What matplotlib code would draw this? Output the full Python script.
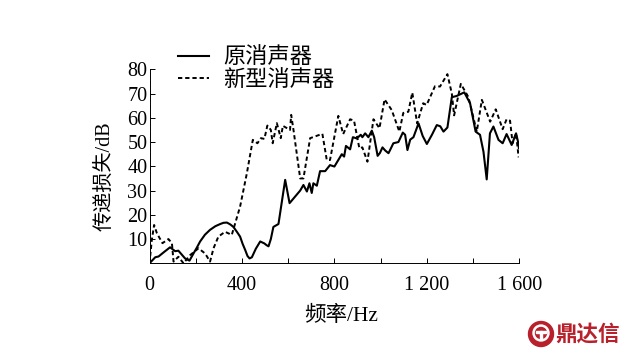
import matplotlib
matplotlib.use("Agg")
import matplotlib.pyplot as plt
from matplotlib.patches import Circle, Rectangle

# 字体: 数字用 Times 风格, 中文用 Noto
plt.rcParams['font.family'] = ['Liberation Serif', 'Noto Sans CJK SC']

# 原消声器
freq_old = [0, 25, 39, 65, 89, 111, 125, 154, 173, 190, 205, 219, 240, 262, 285, 306, 320, 335, 350, 363,
            378, 392, 403, 414, 424, 433, 443, 460, 479, 497, 506, 515, 525, 536, 558, 587, 606, 652,
            666, 681, 692, 702, 709, 724, 738, 760, 781, 800, 832, 842, 850, 868, 880, 897, 914, 921,
            933, 947, 962, 972, 987, 997, 1008, 1020, 1034, 1045, 1055, 1077, 1096, 1106, 1116, 1128,
            1142, 1164, 1182, 1200, 1222, 1243, 1258, 1272, 1289, 1308, 1329, 1362, 1387, 1411, 1430,
            1445, 1459, 1473, 1488, 1510, 1528, 1545, 1567, 1586, 1596, 1598]
tl_old = [0, 2.5, 2.8, 4.8, 6.6, 5, 5.2, 2, 1.1, 4, 6.5, 9, 11.8, 13.8, 15.3, 16.2, 16.7, 16.8, 16, 15,
          13, 11, 8, 5.5, 3, 2, 2.5, 6, 9, 8.2, 7.5, 7, 10, 15, 16.2, 34.4, 24.8, 30,
          32.3, 29.6, 33, 29, 33, 32, 38, 38, 40.5, 39.9, 45, 44, 48.4, 47, 52, 51.5, 53, 52,
          53.6, 52, 54.7, 52, 44.3, 45.5, 47.8, 46.5, 45.4, 47.5, 49.5, 50, 53.9, 53, 46.7, 51,
          52, 57.7, 52.5, 49.2, 53, 57, 56.5, 54.3, 56, 68.5, 69, 70.5, 66, 54.3, 53,
          46, 34.6, 53.6, 56.4, 50.9, 49.5, 53.3, 48.8, 53.6, 49.5, 47.5]

# 新型消声器
freq_new = [0, 10, 20, 32, 56, 82, 97, 104, 125, 147, 176, 212, 241, 262, 277, 298, 327, 356,
            392, 421, 447, 467, 482, 497, 510, 525, 533, 551, 568, 577, 608, 613, 623, 652, 666,
            695, 748, 767, 781, 817, 838, 868, 885, 908, 921, 943, 969, 995, 1017, 1048, 1081,
            1098, 1120, 1137, 1158, 1184, 1199, 1235, 1257, 1289, 1308, 1318, 1347, 1380, 1416,
            1438, 1474, 1498, 1528, 1545, 1560, 1571, 1586, 1597]
tl_new = [0, 9.6, 15.8, 12.4, 8.3, 10, 8.3, 0.7, 2.7, 0, 3.4, 6.2, 4, 0.7, 6.2, 11, 13, 11.7,
          23.4, 37, 50.9, 49.5, 51.6, 51.3, 56.8, 55, 49.5, 57.8, 51.6, 56.7, 55, 61.2, 55, 35, 35,
          51.6, 53.4, 42.6, 42.6, 60.8, 53.3, 59.4, 58.8, 47.4, 47.8, 41.9, 59.4, 55.7, 67.6, 63.2, 54.3,
          62, 62.5, 70.4, 57.7, 66, 65.3, 73, 72.9, 78, 70, 61, 74, 68.5, 54.3,
          67.4, 58.4, 63.5, 55.3, 59.4, 58.8, 49.5, 53.6, 43.7]

x_ticks = [0, 200, 400, 600, 800, 1000, 1200, 1400, 1600]
x_labels = ['0', '', '400', '', '800', '', '1 200', '', '1 600']
y_ticks = [10, 20, 30, 40, 50, 60, 70, 80]

W, H = 630, 358
fig = plt.figure(figsize=(W / 100, H / 100), dpi=100)
ax = fig.add_axes([149.5 / W, 1 - 263.3 / H, 369.8 / W, 194 / H])

ax.plot(freq_old, tl_old, color='black', linewidth=1.5, label='原消声器')
ax.plot(freq_new, tl_new, color='black', linewidth=1.4, linestyle=(0, (2.2, 1.5)), label='新型消声器')

ax.set_xlim(0, 1600)
ax.set_ylim(0, 80)
ax.set_xticks(x_ticks, x_labels)
ax.set_yticks(y_ticks)
ax.tick_params(axis='both', direction='in', length=3.5, width=0.7, labelsize=14.5)
ax.tick_params(axis='x', pad=9.5)
ax.tick_params(axis='y', pad=1.5)
ax.spines['top'].set_visible(False)
ax.spines['right'].set_visible(False)
ax.spines['left'].set_linewidth(0.7)
ax.spines['bottom'].set_linewidth(0.7)

ax.set_xlabel('频率/Hz', fontsize=15.5)
ax.set_ylabel('传递损失/dB', fontsize=14.5)
ax.xaxis.set_label_coords((341 - 149.5) / 369.8, -(316 - 263.3) / 194, transform=ax.transAxes)
ax.xaxis.label.set_va('center')
ax.yaxis.set_label_coords(-(149.5 - 105) / 369.8, (263.3 - 176) / 194, transform=ax.transAxes)
ax.yaxis.label.set_va('center')

fig.legend(loc='upper left', bbox_to_anchor=(162 / W, 1 - 32 / H), frameon=False, fontsize=16,
           handlelength=1.42, handletextpad=0.62, labelspacing=0.08, borderpad=0.2)

# 右下角水印
logo = fig.add_axes([0, 0, 1, 1])
logo.set_xlim(0, W)
logo.set_ylim(H, 0)
logo.axis('off')
logo.patch.set_alpha(0)
red = '#b8202c'
logo.add_patch(Circle((541, 334), 12.5, color=red))
logo.add_patch(Circle((541, 333), 8, color='white'))
logo.add_patch(Circle((541, 333), 5.5, color=red))
logo.add_patch(Rectangle((536, 331), 10, 1.5, color='white'))
logo.add_patch(Rectangle((540.2, 331), 1.6, 8, color='white'))
logo.text(555, 334, '鼎达信', color=red, fontsize=15.5, fontweight='bold',
          family='Noto Sans CJK SC', va='center', ha='left')

fig.savefig('out.png', dpi=100)
